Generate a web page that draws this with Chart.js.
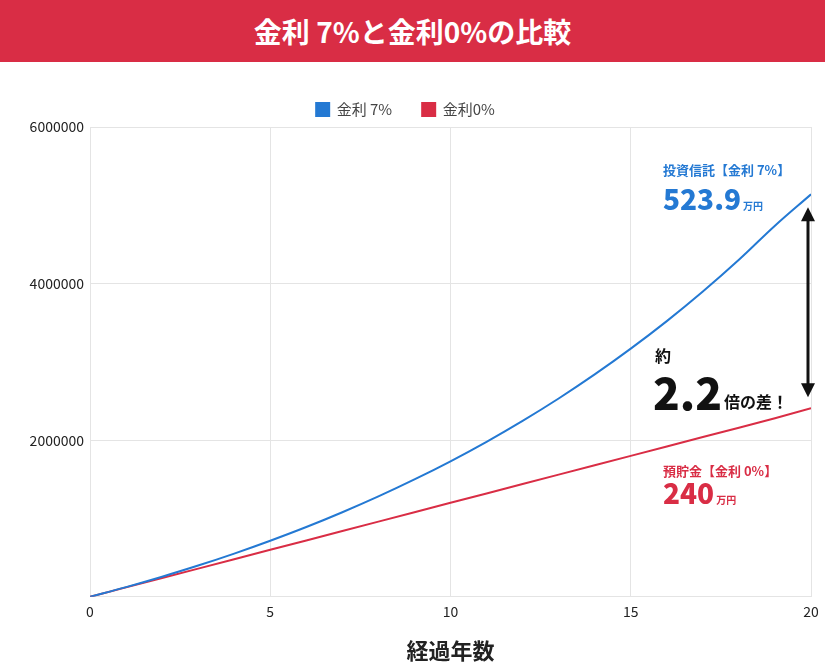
<!DOCTYPE html>
<html><head><meta charset="utf-8">
<script src="https://cdn.jsdelivr.net/npm/chart.js@4"></script>
<style>
body{margin:0;width:825px;height:672px;background:#fff;font-family:"Noto Sans CJK JP",sans-serif;overflow:hidden}
#banner{height:62px;background:#d92d45;color:#fff;font-size:28px;font-weight:bold;text-align:center;line-height:62px}
#wrap{position:relative;width:825px;height:610px}
</style></head><body>
<div id="banner">金利 7%と金利0%の比較</div>
<div id="wrap"><canvas id="c"></canvas></div>
<script>
const years = [0,1,2,3,4,5,6,7,8,9,10,11,12,13,14,15,16,17,18,19,20];
const rate7 = [0,124000,257000,399000,552000,716000,891000,1080000,1282000,1499000,1731000,1980000,2247000,2533000,2840000,3169000,3521000,3899000,4304000,4739000,5140000];
const rate0 = [0,120000,240000,360000,480000,600000,720000,840000,960000,1080000,1200000,1320000,1440000,1560000,1680000,1800000,1920000,2040000,2160000,2280000,2410000];
const yTicks = [0,2000000,4000000,6000000];
const BLUE = '#2479d3', RED = '#d92d45';

const notes = {
  id:'notes',
  afterDraw(chart){
    const c = chart.ctx, a = chart.chartArea;
    const X = v => chart.scales.x.getPixelForValue(v);
    const Y = v => chart.scales.y.getPixelForValue(v);
    c.save();
    c.textBaseline='alphabetic';
    const f = (s,w) => `${w||'bold'} ${s}px "Noto Sans CJK JP", sans-serif`;
    function amount(x,y,num,col){
      c.fillStyle=col; c.font=f(28,'900'); c.fillText(num,x,y);
      const w=c.measureText(num).width;
      c.font=f(10); c.fillText('万円',x+w+2,y);
    }
    const tx = 663;
    c.fillStyle=BLUE; c.font=f(13); c.fillText('投資信託【金利 7%】',tx,Y(5140000)-7+ -6 - 6);
    amount(tx,Y(5140000)+16,'523.9',BLUE);
    c.fillStyle=RED; c.font=f(13); c.fillText('預貯金【金利 0%】',tx,Y(2410000)+68);
    amount(tx,Y(2410000)+96,'240',RED);
    c.fillStyle='#111'; c.font=f(16); c.fillText('約',655,Y(3000000)+0);
    c.font=f(44,'900'); c.fillText('2.2',653,Y(3000000)+48);
    const w=c.measureText('2.2').width;
    c.font=f(16); c.fillText('倍の差！',655+w,Y(3000000)+46);
    // arrow
    const ax = X(20)-3, y1 = Y(4900000)-6, y2 = Y(2600000)+4;
    c.strokeStyle='#111'; c.lineWidth=3;
    c.beginPath(); c.moveTo(ax,y1+8); c.lineTo(ax,y2-8); c.stroke();
    c.beginPath(); c.moveTo(ax,y1); c.lineTo(ax-7,y1+14); c.lineTo(ax+7,y1+14); c.closePath(); c.fill();
    c.beginPath(); c.moveTo(ax,y2); c.lineTo(ax-7,y2-14); c.lineTo(ax+7,y2-14); c.closePath(); c.fill();
    c.restore();
  }
};

new Chart(document.getElementById('c'), {
  type:'line',
  data:{datasets:[
    {label:'金利 7%', data:years.map((x,i)=>({x,y:rate7[i]})), borderColor:BLUE, backgroundColor:BLUE, borderWidth:2, pointRadius:0, tension:0.4},
    {label:'金利0%', data:years.map((x,i)=>({x,y:rate0[i]})), borderColor:RED, backgroundColor:RED, borderWidth:2, pointRadius:0, tension:0}
  ]},
  options:{
    responsive:true, maintainAspectRatio:false, animation:false,
    layout:{padding:{top:10,right:14,left:0,bottom:4}},
    plugins:{
      legend:{labels:{boxWidth:13,boxHeight:13,padding:30,color:'#444',font:{size:15,family:'"Noto Sans CJK JP"'}}},
      tooltip:{enabled:false}
    },
    scales:{
      x:{type:'linear',min:0,max:20,border:{display:false},
        ticks:{stepSize:5,color:'#222',padding:6,font:{size:14,family:'"Noto Sans CJK JP"'}},
        grid:{color:'#e4e4e4',drawTicks:false},
        title:{display:true,text:'経過年数',color:'#222',font:{size:22,weight:'bold',family:'"Noto Sans CJK JP"'},padding:{top:12}}},
      y:{min:0,max:6000000,border:{display:false},
        afterBuildTicks:s=>{s.ticks=yTicks.map(v=>({value:v}));},
        afterFit:s=>{s.width=90;},
        ticks:{color:'#222',padding:6,callback:v=>v===0?'':v,font:{size:14,family:'"Noto Sans CJK JP"'}},
        grid:{color:'#e4e4e4',drawTicks:false}}
    }
  },
  plugins:[notes]
});
</script>
</body></html>
